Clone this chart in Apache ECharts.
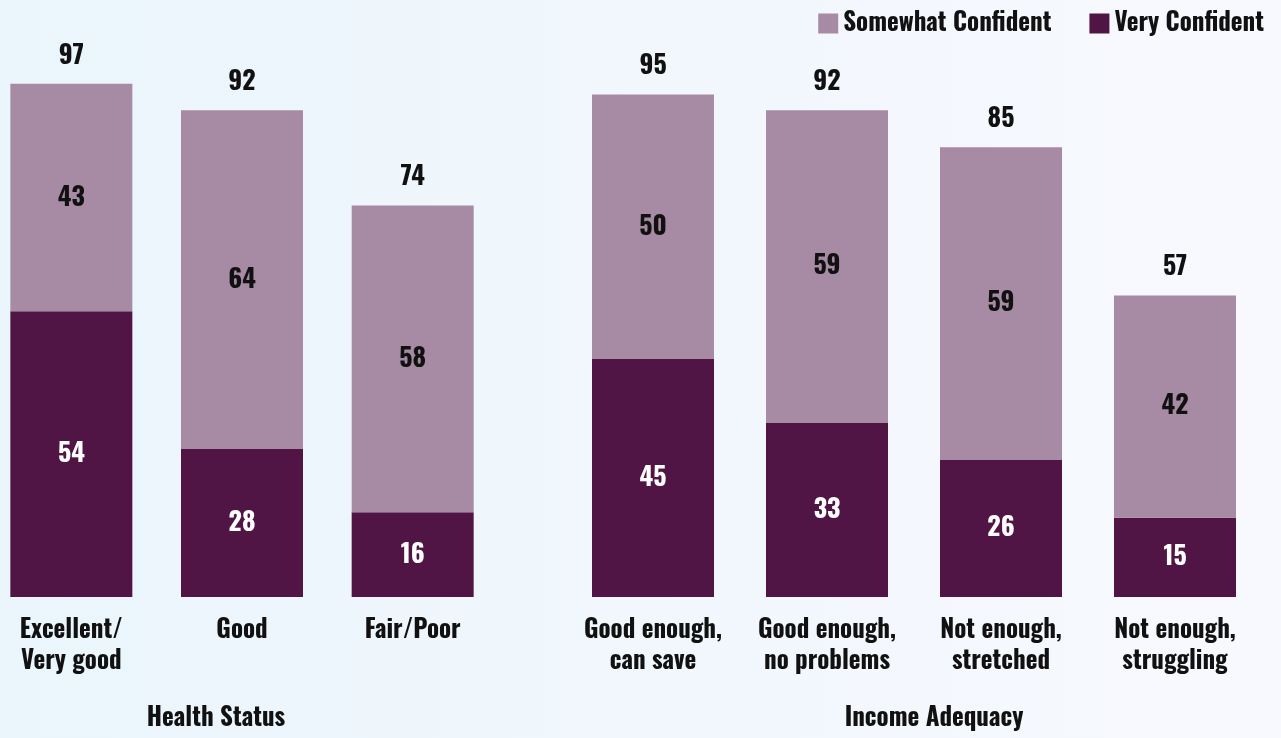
<!DOCTYPE html>
<html>
<head>
<meta charset="utf-8">
<script src="https://cdn.jsdelivr.net/npm/echarts@6/dist/echarts.min.js"></script>
<style>
html,body{margin:0;padding:0;width:1281px;height:738px;overflow:hidden;}
#chart{width:1281px;height:738px;}
</style>
</head>
<body>
<div id="chart"></div>
<script>
const healthCategories = ['Excellent/\nVery good', 'Good', 'Fair/Poor'];
const healthVery = [54, 28, 16];
const healthSomewhat = [43, 64, 58];
const healthTotal = [97, 92, 74];

const incomeCategories = ['Good enough,\ncan save', 'Good enough,\nno problems', 'Not enough,\nstretched', 'Not enough,\nstruggling'];
const incomeVery = [45, 33, 26, 15];
const incomeSomewhat = [50, 59, 59, 42];
const incomeTotal = [95, 92, 85, 57];

const groupTitles = ['Health Status', 'Income Adequacy'];
const seriesNames = ['Somewhat Confident', 'Very Confident'];

const FONT = "Oswald, 'Roboto Condensed', 'DejaVu Sans Condensed', sans-serif";
const FS = 25;
const FSV = 26;
const C_VERY = '#511545';
const C_SOME = '#A78AA3';

const chart = echarts.init(document.getElementById('chart'));

function groupSeries(idx, very, some, total) {
  const stack = 's' + idx;
  return [
    {
      name: seriesNames[1], type: 'bar', stack, xAxisIndex: idx, yAxisIndex: idx,
      data: very, barWidth: 122, itemStyle: { color: C_VERY },
      label: { show: true, position: 'inside', color: '#fff', fontFamily: FONT, fontWeight: 'bold', fontSize: FSV }
    },
    {
      name: seriesNames[0], type: 'bar', stack, xAxisIndex: idx, yAxisIndex: idx,
      data: some, barWidth: 122, itemStyle: { color: C_SOME },
      label: { show: true, position: 'inside', color: '#111', fontFamily: FONT, fontWeight: 'bold', fontSize: FSV }
    },
    {
      name: 'total', type: 'bar', stack, xAxisIndex: idx, yAxisIndex: idx,
      data: total.map(() => 0), barWidth: 122, itemStyle: { color: 'transparent' },
      label: {
        show: true, position: 'top', distance: 15, color: '#111', fontFamily: FONT, fontWeight: 'bold', fontSize: FSV,
        formatter: p => total[p.dataIndex]
      }
    }
  ];
}

function xAx(idx, cats) {
  return {
    type: 'category', gridIndex: idx, data: cats,
    axisLine: { show: false }, axisTick: { show: false },
    axisLabel: { color: '#111', fontFamily: FONT, fontWeight: 'bold', fontSize: FS, lineHeight: 31, margin: 18, interval: 0 }
  };
}
function yAx(idx) {
  return { type: 'value', gridIndex: idx, min: 0, max: 100, show: false, splitLine: { show: false } };
}

chart.setOption({
  animation: false,
  backgroundColor: {
    type: 'linear', x: 0, y: 0, x2: 1, y2: 0,
    colorStops: [{ offset: 0, color: '#EAF5FC' }, { offset: 1, color: '#F8F9FE' }]
  },
  legend: {
    data: seriesNames, right: 12, top: 6, itemWidth: 20, itemHeight: 20, itemGap: 38,
    icon: 'rect',
    textStyle: { color: '#111', fontFamily: FONT, fontWeight: 'bold', fontSize: FS }
  },
  grid: [
    { left: -14, width: 512, top: 68, bottom: 141, outerBoundsMode: 'none', containLabel: false },
    { left: 566, width: 696, top: 68, bottom: 141, outerBoundsMode: 'none', containLabel: false }
  ],
  xAxis: [xAx(0, healthCategories), xAx(1, incomeCategories)],
  yAxis: [yAx(0), yAx(1)],
  series: [].concat(
    groupSeries(0, healthVery, healthSomewhat, healthTotal),
    groupSeries(1, incomeVery, incomeSomewhat, incomeTotal)
  ),
  graphic: [
    { type: 'text', x: 216, y: 718, style: { text: groupTitles[0], fill: '#111', font: "bold " + FS + "px " + FONT, textAlign: 'center', textVerticalAlign: 'middle' } },
    { type: 'text', x: 934, y: 718, style: { text: groupTitles[1], fill: '#111', font: "bold " + FS + "px " + FONT, textAlign: 'center', textVerticalAlign: 'middle' } }
  ]
});
</script>
</body>
</html>
